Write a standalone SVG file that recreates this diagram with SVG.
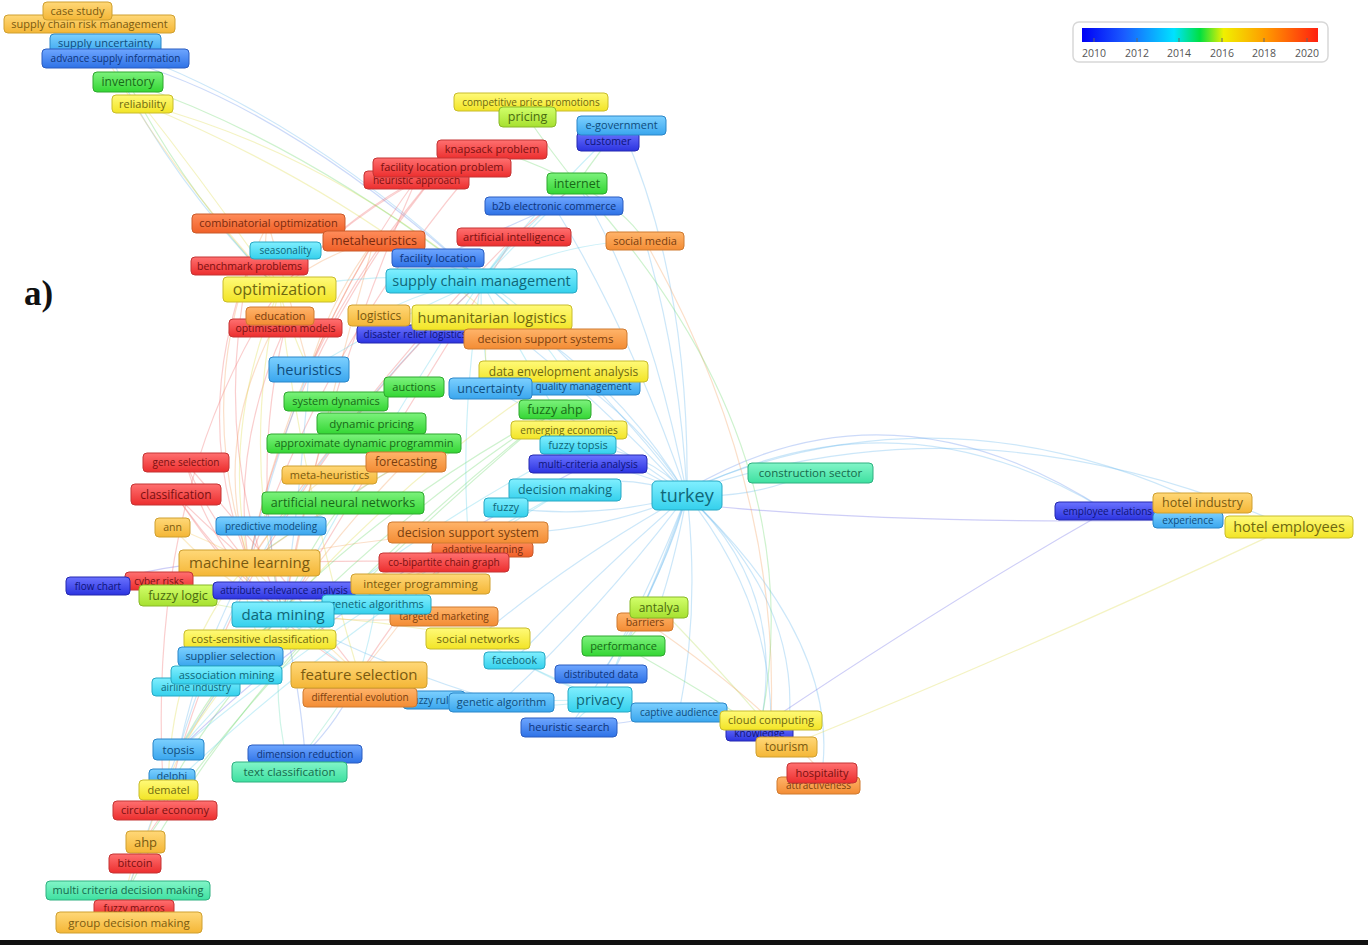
<svg xmlns="http://www.w3.org/2000/svg" width="1368" height="945" viewBox="0 0 1368 945">
<defs>
<linearGradient id="gR" x1="0" y1="0" x2="0" y2="1"><stop offset="0" stop-color="#ff7070"/><stop offset="1" stop-color="#ec2e2e"/></linearGradient>
<linearGradient id="gOR" x1="0" y1="0" x2="0" y2="1"><stop offset="0" stop-color="#ff8c5a"/><stop offset="1" stop-color="#f06028"/></linearGradient>
<linearGradient id="gO" x1="0" y1="0" x2="0" y2="1"><stop offset="0" stop-color="#ffb46a"/><stop offset="1" stop-color="#f38c34"/></linearGradient>
<linearGradient id="gG" x1="0" y1="0" x2="0" y2="1"><stop offset="0" stop-color="#ffd878"/><stop offset="1" stop-color="#f4b636"/></linearGradient>
<linearGradient id="gY" x1="0" y1="0" x2="0" y2="1"><stop offset="0" stop-color="#fffa78"/><stop offset="1" stop-color="#f2e426"/></linearGradient>
<linearGradient id="gYG" x1="0" y1="0" x2="0" y2="1"><stop offset="0" stop-color="#d2ff6a"/><stop offset="1" stop-color="#a6e030"/></linearGradient>
<linearGradient id="gGR" x1="0" y1="0" x2="0" y2="1"><stop offset="0" stop-color="#7cf27c"/><stop offset="1" stop-color="#34d634"/></linearGradient>
<linearGradient id="gTL" x1="0" y1="0" x2="0" y2="1"><stop offset="0" stop-color="#82f5c8"/><stop offset="1" stop-color="#3ee0a0"/></linearGradient>
<linearGradient id="gC" x1="0" y1="0" x2="0" y2="1"><stop offset="0" stop-color="#80efff"/><stop offset="1" stop-color="#34d0ec"/></linearGradient>
<linearGradient id="gLB" x1="0" y1="0" x2="0" y2="1"><stop offset="0" stop-color="#7cd0ff"/><stop offset="1" stop-color="#3aa6ee"/></linearGradient>
<linearGradient id="gB" x1="0" y1="0" x2="0" y2="1"><stop offset="0" stop-color="#6ea6ff"/><stop offset="1" stop-color="#2e72e6"/></linearGradient>
<linearGradient id="gDB" x1="0" y1="0" x2="0" y2="1"><stop offset="0" stop-color="#6a72ff"/><stop offset="1" stop-color="#2c34e0"/></linearGradient>
<linearGradient id="scale" x1="0" y1="0" x2="1" y2="0">
<stop offset="0" stop-color="#0000f5"/><stop offset="0.18" stop-color="#1a5cff"/><stop offset="0.39" stop-color="#00e2ff"/><stop offset="0.5" stop-color="#00e040"/><stop offset="0.6" stop-color="#f0f000"/><stop offset="0.78" stop-color="#ff9900"/><stop offset="1" stop-color="#ff2010"/>
</linearGradient>
</defs>
<style>
.nd rect{stroke-width:1}
.nd text{font-family:"Open Sans","Noto Sans",sans-serif;text-anchor:middle}
.R rect{fill:url(#gR);stroke:#c43434}.R text{fill:#7a1010}
.OR rect{fill:url(#gOR);stroke:#c85a2a}.OR text{fill:#7a2a0e}
.O rect{fill:url(#gO);stroke:#cf7a30}.O text{fill:#7a3e0e}
.G rect{fill:url(#gG);stroke:#cfa030}.G text{fill:#7a5a10}
.Y rect{fill:url(#gY);stroke:#c8bc2c}.Y text{fill:#6e6810}
.YG rect{fill:url(#gYG);stroke:#88b828}.YG text{fill:#4a6a10}
.GR rect{fill:url(#gGR);stroke:#2ea82e}.GR text{fill:#176a17}
.TL rect{fill:url(#gTL);stroke:#2eb080}.TL text{fill:#166a4c}
.C rect{fill:url(#gC);stroke:#28a8c4}.C text{fill:#0f6678}
.LB rect{fill:url(#gLB);stroke:#2a86c8}.LB text{fill:#0f4c7c}
.B rect{fill:url(#gB);stroke:#2a5cc0}.B text{fill:#0e347a}
.DB rect{fill:url(#gDB);stroke:#2428b0}.DB text{fill:#0e1478}
#connectors path{fill:none;stroke-width:1.2;stroke-opacity:0.34}
.e-lb{stroke:#6ab8ec}.e-c{stroke:#66d4ea}.e-b{stroke:#6a94ec}.e-db{stroke:#7070e8}.e-r{stroke:#f07070}.e-o{stroke:#f4a060}.e-gd{stroke:#f2c860}.e-y{stroke:#e0dc50}.e-yg{stroke:#b8e060}.e-g{stroke:#70d870}.e-t{stroke:#70e0b8}
.leg text{font-family:"Open Sans","Noto Sans",sans-serif;font-size:10.5px;fill:#555;text-anchor:middle}
</style>
<rect x="0" y="0" width="1368" height="945" fill="#ffffff"/>
<g id="connectors">
<path class="e-lb" d="M687 495Q600 380 481 281"/>
<path class="e-lb" d="M687 495Q650 300 577 184"/>
<path class="e-lb" d="M687 495Q630 330 554 206"/>
<path class="e-lb" d="M687 495Q690 280 621 126"/>
<path class="e-lb" d="M687 495Q680 360 645 241"/>
<path class="e-lb" d="M687 495Q590 390 492 317"/>
<path class="e-lb" d="M687 495Q630 400 545 339"/>
<path class="e-lb" d="M687 495Q640 420 564 371"/>
<path class="e-lb" d="M687 495Q620 470 565 490"/>
<path class="e-lb" d="M687 495Q640 470 588 464"/>
<path class="e-lb" d="M687 495Q650 450 578 445"/>
<path class="e-lb" d="M687 495Q610 440 555 410"/>
<path class="e-lb" d="M687 495Q590 440 490 388"/>
<path class="e-lb" d="M687 495Q600 520 506 508"/>
<path class="e-lb" d="M687 495Q580 540 468 532"/>
<path class="e-lb" d="M687 495Q570 560 478 638"/>
<path class="e-lb" d="M687 495Q600 570 514 660"/>
<path class="e-lb" d="M687 495Q600 610 501 702"/>
<path class="e-lb" d="M687 495Q650 600 600 700"/>
<path class="e-lb" d="M687 495Q660 590 601 674"/>
<path class="e-lb" d="M687 495Q630 640 569 728"/>
<path class="e-lb" d="M687 495Q700 610 679 713"/>
<path class="e-lb" d="M687 495Q660 580 623 646"/>
<path class="e-lb" d="M687 495Q675 560 659 607"/>
<path class="e-lb" d="M687 495Q770 600 771 720"/>
<path class="e-lb" d="M687 495Q790 590 759 733"/>
<path class="e-lb" d="M687 495Q810 610 786 747"/>
<path class="e-lb" d="M687 495Q840 640 822 773"/>
<path class="e-lb" d="M687 495Q750 500 810 473"/>
<path class="e-b" d="M687 490Q890 370 1107 511"/>
<path class="e-lb" d="M687 492Q900 385 1107 511"/>
<path class="e-lb" d="M687 490Q940 380 1202 503"/>
<path class="e-lb" d="M687 492Q980 390 1289 527"/>
<path class="e-db" d="M700 505Q900 525 1188 520"/>
<path class="e-db" d="M1107 511Q950 600 771 720"/>
<path class="e-y" d="M1289 527Q1050 640 786 747"/>
<path class="e-o" d="M645 241Q780 480 771 720"/>
<path class="e-g" d="M577 184Q820 450 759 733"/>
<path class="e-y" d="M142 104Q210 190 279 290"/>
<path class="e-y" d="M142 104Q320 150 481 281"/>
<path class="e-y" d="M142 104Q350 190 492 317"/>
<path class="e-g" d="M128 82Q190 200 279 290"/>
<path class="e-g" d="M128 82Q300 140 481 281"/>
<path class="e-lb" d="M105 44Q160 170 279 290"/>
<path class="e-lb" d="M105 44Q300 110 481 281"/>
<path class="e-b" d="M115 58Q280 100 481 281"/>
<path class="e-gd" d="M89 24Q150 150 279 290"/>
<path class="e-o" d="M374 241Q320 255 279 290"/>
<path class="e-o" d="M374 241Q330 300 309 370"/>
<path class="e-o" d="M374 241Q280 400 249 563"/>
<path class="e-o" d="M374 241Q320 430 283 614"/>
<path class="e-o" d="M268 223Q190 380 249 563"/>
<path class="e-o" d="M268 223Q260 250 279 290"/>
<path class="e-o" d="M268 223Q290 300 309 370"/>
<path class="e-r" d="M249 266Q190 420 249 563"/>
<path class="e-r" d="M249 266Q210 450 283 614"/>
<path class="e-r" d="M442 167Q350 210 279 290"/>
<path class="e-r" d="M442 167Q290 350 249 563"/>
<path class="e-r" d="M442 167Q360 260 309 370"/>
<path class="e-r" d="M491 149Q370 190 279 290"/>
<path class="e-r" d="M491 149Q330 330 249 563"/>
<path class="e-r" d="M416 180Q350 270 309 370"/>
<path class="e-r" d="M416 180Q320 400 283 614"/>
<path class="e-r" d="M514 237Q370 380 249 563"/>
<path class="e-r" d="M514 237Q400 420 283 614"/>
<path class="e-r" d="M285 328Q230 450 249 563"/>
<path class="e-r" d="M285 328Q250 470 283 614"/>
<path class="e-o" d="M280 316Q210 440 249 563"/>
<path class="e-y" d="M279 290Q290 330 309 370"/>
<path class="e-y" d="M279 290Q220 430 249 563"/>
<path class="e-y" d="M279 290Q240 450 283 614"/>
<path class="e-y" d="M279 290Q300 480 359 675"/>
<path class="e-lb" d="M309 370Q270 470 249 563"/>
<path class="e-lb" d="M309 370Q300 500 283 614"/>
<path class="e-gd" d="M249 563Q262 590 283 614"/>
<path class="e-gd" d="M249 563Q300 620 359 675"/>
<path class="e-r" d="M249 563Q200 520 176 495"/>
<path class="e-r" d="M176 495Q220 560 283 614"/>
<path class="e-r" d="M176 495Q250 610 359 675"/>
<path class="e-r" d="M186 463Q210 550 283 614"/>
<path class="e-r" d="M186 463Q270 560 359 675"/>
<path class="e-r" d="M186 463Q210 520 249 563"/>
<path class="e-c" d="M283 614Q320 650 359 675"/>
<path class="e-g" d="M283 614Q300 560 343 503"/>
<path class="e-g" d="M249 563Q290 530 343 503"/>
<path class="e-r" d="M283 614Q360 590 444 562"/>
<path class="e-r" d="M249 563Q350 560 444 562"/>
<path class="e-gd" d="M283 614Q350 600 420 584"/>
<path class="e-o" d="M283 614Q370 625 444 616"/>
<path class="e-r" d="M359 675Q400 610 444 562"/>
<path class="e-o" d="M359 675Q420 600 468 532"/>
<path class="e-o" d="M468 532Q380 580 283 614"/>
<path class="e-o" d="M468 532Q350 540 249 563"/>
<path class="e-g" d="M343 503Q370 480 406 462"/>
<path class="e-o" d="M406 462Q320 510 249 563"/>
<path class="e-o" d="M406 462Q330 540 283 614"/>
<path class="e-o" d="M482 550Q380 590 283 614"/>
<path class="e-gd" d="M329 475Q280 510 249 563"/>
<path class="e-y" d="M260 640Q240 600 249 563"/>
<path class="e-lb" d="M230 656Q250 640 283 614"/>
<path class="e-c" d="M226 675Q250 650 283 614"/>
<path class="e-c" d="M196 687Q230 660 283 614"/>
<path class="e-db" d="M98 586Q170 560 249 563"/>
<path class="e-r" d="M159 581Q200 565 249 563"/>
<path class="e-yg" d="M178 595Q230 610 283 614"/>
<path class="e-lb" d="M271 526Q270 570 283 614"/>
<path class="e-gd" d="M172 527Q210 540 249 563"/>
<path class="e-gd" d="M172 527Q220 580 283 614"/>
<path class="e-c" d="M481 281Q530 220 577 184"/>
<path class="e-c" d="M481 281Q520 240 554 206"/>
<path class="e-c" d="M481 281Q500 255 514 237"/>
<path class="e-c" d="M481 281Q520 300 545 339"/>
<path class="e-c" d="M481 281Q380 270 279 290"/>
<path class="e-c" d="M481 281Q390 320 309 370"/>
<path class="e-c" d="M481 281Q420 250 374 241"/>
<path class="e-c" d="M481 281Q370 450 283 614"/>
<path class="e-c" d="M481 281Q520 350 555 410"/>
<path class="e-c" d="M481 281Q480 330 490 388"/>
<path class="e-c" d="M481 281Q530 320 564 371"/>
<path class="e-c" d="M481 281Q560 180 621 126"/>
<path class="e-c" d="M481 281Q570 240 645 241"/>
<path class="e-c" d="M481 281Q420 290 379 315"/>
<path class="e-c" d="M481 281Q460 420 468 532"/>
<path class="e-lb" d="M481 281Q250 500 179 750"/>
<path class="e-r" d="M481 281Q230 520 165 811"/>
<path class="e-y" d="M492 317Q520 330 545 339"/>
<path class="e-y" d="M492 317Q480 350 490 388"/>
<path class="e-g" d="M577 184Q600 150 621 126"/>
<path class="e-g" d="M577 184Q550 150 527 117"/>
<path class="e-g" d="M577 184Q625 210 645 241"/>
<path class="e-g" d="M577 184Q530 160 491 149"/>
<path class="e-r" d="M514 237Q545 210 577 184"/>
<path class="e-b" d="M554 206Q500 230 438 258"/>
<path class="e-y" d="M564 371Q330 520 179 750"/>
<path class="e-g" d="M555 410Q280 560 179 750"/>
<path class="e-g" d="M555 410Q270 600 168 790"/>
<path class="e-g" d="M555 410Q250 650 128 890"/>
<path class="e-g" d="M555 410Q280 640 145 842"/>
<path class="e-c" d="M578 445Q320 580 179 750"/>
<path class="e-db" d="M588 464Q330 600 179 750"/>
<path class="e-c" d="M565 490Q330 620 179 750"/>
<path class="e-c" d="M565 490Q320 640 168 790"/>
<path class="e-r" d="M165 811Q150 830 145 842"/>
<path class="e-gd" d="M145 842Q135 870 128 890"/>
<path class="e-gd" d="M145 842Q120 880 129 922"/>
<path class="e-lb" d="M179 750Q150 820 128 890"/>
<path class="e-r" d="M165 811Q140 500 279 290"/>
<path class="e-y" d="M168 790Q170 650 249 563"/>
<path class="e-gd" d="M145 842Q190 700 283 614"/>
<path class="e-lb" d="M179 750Q220 680 283 614"/>
<path class="e-lb" d="M179 750Q200 650 249 563"/>
<path class="e-t" d="M290 772Q270 700 283 614"/>
<path class="e-t" d="M290 772Q330 720 359 675"/>
<path class="e-b" d="M305 754Q300 690 283 614"/>
<path class="e-b" d="M305 754Q340 720 359 675"/>
<path class="e-c" d="M600 700Q550 700 501 702"/>
<path class="e-c" d="M600 700Q580 715 569 728"/>
<path class="e-c" d="M600 700Q560 680 514 660"/>
<path class="e-c" d="M600 700Q640 705 679 713"/>
<path class="e-c" d="M600 700Q615 670 623 646"/>
<path class="e-c" d="M600 700Q530 670 478 638"/>
<path class="e-c" d="M600 700Q480 720 359 675"/>
<path class="e-lb" d="M501 702Q430 700 359 675"/>
<path class="e-lb" d="M501 702Q390 670 283 614"/>
<path class="e-g" d="M623 646Q640 625 659 607"/>
<path class="e-g" d="M623 646Q720 700 786 747"/>
<path class="e-yg" d="M659 607Q730 680 786 747"/>
<path class="e-o" d="M645 621Q760 700 822 773"/>
<path class="e-lb" d="M679 713Q720 718 771 720"/>
<path class="e-b" d="M569 728Q620 725 679 713"/>
<path class="e-y" d="M478 638Q380 620 283 614"/>
<path class="e-c" d="M376 604Q370 640 359 675"/>
</g>
<text x="24" y="305" font-family="Liberation Serif, serif" font-weight="bold" font-size="35" fill="#111">a)</text>
<g id="legend" class="leg">
<rect x="1073" y="22" width="255" height="40" rx="6" fill="#fff" stroke="#d8d8d8" stroke-width="1.5"/>
<rect x="1082" y="28" width="236" height="14" fill="url(#scale)"/>
<path d="M1094 38V42M1137 38V42M1179 38V42M1222 38V42M1264 38V42M1307 38V42" stroke="#666" stroke-width="1"/>
<text x="1094" y="57">2010</text><text x="1137" y="57">2012</text><text x="1179" y="57">2014</text><text x="1222" y="57">2016</text><text x="1264" y="57">2018</text><text x="1307" y="57">2020</text>
</g>
<g id="n-scrm" class="nd G"><rect x="4" y="15" width="171" height="18" rx="4"/><text x="89.5" y="28.4" font-size="11">supply chain risk management</text></g>
<g id="n-case-study" class="nd G"><rect x="43" y="2" width="69" height="18" rx="4"/><text x="77.5" y="14.6" font-size="11">case study</text></g>
<g id="n-supply-uncertainty" class="nd LB"><rect x="50" y="34" width="111" height="19" rx="4"/><text x="105.5" y="47.4" font-size="11">supply uncertainty</text></g>
<g id="n-advance-supply" class="nd B"><rect x="42" y="49" width="147" height="19" rx="4"/><text x="115.5" y="62" font-size="10">advance supply information</text></g>
<g id="n-inventory" class="nd GR"><rect x="93" y="72" width="70" height="20" rx="4"/><text x="128" y="86.2" font-size="12">inventory</text></g>
<g id="n-reliability" class="nd Y"><rect x="112" y="95" width="61" height="18" rx="4"/><text x="142.5" y="107.9" font-size="11">reliability</text></g>
<g id="n-cpp" class="nd Y"><rect x="454" y="93" width="154" height="18" rx="4"/><text x="531" y="105.5" font-size="10">competitive price promotions</text></g>
<g id="n-pricing" class="nd YG"><rect x="499" y="107" width="57" height="20" rx="4"/><text x="527.5" y="121.4" font-size="12.5">pricing</text></g>
<g id="n-customer" class="nd DB"><rect x="577" y="132" width="62" height="19" rx="4"/><text x="608" y="145.2" font-size="10.5">customer</text></g>
<g id="n-egov" class="nd LB"><rect x="577" y="116" width="89" height="19" rx="4"/><text x="621.5" y="129.4" font-size="11">e-government</text></g>
<g id="n-knapsack" class="nd R"><rect x="437" y="140" width="110" height="19" rx="4"/><text x="492" y="153.4" font-size="11">knapsack problem</text></g>
<g id="n-heur-approach" class="nd R"><rect x="364" y="171" width="105" height="18" rx="4"/><text x="416.5" y="183.5" font-size="10">heuristic approach</text></g>
<g id="n-flp" class="nd R"><rect x="373" y="158" width="138" height="19" rx="4"/><text x="442" y="171.4" font-size="11">facility location problem</text></g>
<g id="n-internet" class="nd GR"><rect x="547" y="173" width="60" height="21" rx="4"/><text x="577" y="187.9" font-size="12.5">internet</text></g>
<g id="n-b2b" class="nd B"><rect x="485" y="197" width="138" height="18" rx="4"/><text x="554" y="209.7" font-size="10.5">b2b electronic commerce</text></g>
<g id="n-combopt" class="nd OR"><rect x="192" y="214" width="153" height="19" rx="4"/><text x="268.5" y="227.4" font-size="11">combinatorial optimization</text></g>
<g id="n-benchmark" class="nd R"><rect x="191" y="257" width="117" height="18" rx="4"/><text x="249.5" y="269.7" font-size="10.5">benchmark problems</text></g>
<g id="n-seasonality" class="nd C"><rect x="250" y="242" width="71" height="17" rx="4"/><text x="285.5" y="254" font-size="10">seasonality</text></g>
<g id="n-metaheuristics" class="nd OR"><rect x="323" y="231" width="102" height="20" rx="4"/><text x="374" y="245.4" font-size="12.5">metaheuristics</text></g>
<g id="n-ai" class="nd R"><rect x="457" y="228" width="114" height="18" rx="4"/><text x="514" y="240.9" font-size="11">artificial intelligence</text></g>
<g id="n-social-media" class="nd O"><rect x="606" y="232" width="78" height="18" rx="4"/><text x="645" y="244.9" font-size="11">social media</text></g>
<g id="n-facility-location" class="nd B"><rect x="392" y="249" width="92" height="18" rx="4"/><text x="438" y="261.9" font-size="11">facility location</text></g>
<g id="n-optimization" class="nd Y"><rect x="223" y="277" width="113" height="25" rx="4"/><text x="279.5" y="295.1" font-size="16">optimization</text></g>
<g id="n-scm" class="nd C"><rect x="386" y="269" width="191" height="24" rx="4"/><text x="481.5" y="286.1" font-size="14.5">supply chain management</text></g>
<g id="n-optmodels" class="nd R"><rect x="229" y="319" width="113" height="18" rx="4"/><text x="285.5" y="331.7" font-size="10.5">optimisation models</text></g>
<g id="n-education" class="nd O"><rect x="246" y="307" width="68" height="18" rx="4"/><text x="280" y="319.9" font-size="11">education</text></g>
<g id="n-disaster" class="nd DB"><rect x="357" y="325" width="116" height="18" rx="4"/><text x="415" y="337.5" font-size="10">disaster relief logistics</text></g>
<g id="n-logistics" class="nd G"><rect x="348" y="305" width="62" height="21" rx="4"/><text x="379" y="319.7" font-size="12">logistics</text></g>
<g id="n-humlog" class="nd Y"><rect x="412" y="305" width="160" height="25" rx="4"/><text x="492" y="322.6" font-size="14.5">humanitarian logistics</text></g>
<g id="n-dss2" class="nd O"><rect x="464" y="329" width="163" height="20" rx="4"/><text x="545.5" y="343" font-size="11.5">decision support systems</text></g>
<g id="n-heuristics" class="nd LB"><rect x="269" y="357" width="80" height="25" rx="4"/><text x="309" y="374.6" font-size="14.5">heuristics</text></g>
<g id="n-quality" class="nd LB"><rect x="527" y="377" width="113" height="18" rx="4"/><text x="583.5" y="389.5" font-size="10">quality management</text></g>
<g id="n-dea" class="nd Y"><rect x="479" y="361" width="169" height="21" rx="4"/><text x="563.5" y="375.7" font-size="12">data envelopment analysis</text></g>
<g id="n-uncertainty" class="nd LB"><rect x="449" y="378" width="83" height="21" rx="4"/><text x="490.5" y="392.9" font-size="12.5">uncertainty</text></g>
<g id="n-sysdyn" class="nd GR"><rect x="284" y="392" width="104" height="19" rx="4"/><text x="336" y="405.4" font-size="11">system dynamics</text></g>
<g id="n-auctions" class="nd GR"><rect x="384" y="377" width="60" height="20" rx="4"/><text x="414" y="390.9" font-size="11">auctions</text></g>
<g id="n-fuzzy-ahp" class="nd GR"><rect x="519" y="400" width="72" height="19" rx="4"/><text x="555" y="413.9" font-size="12.5">fuzzy ahp</text></g>
<g id="n-dynpricing" class="nd GR"><rect x="317" y="413" width="109" height="21" rx="4"/><text x="371.5" y="427.5" font-size="11.5">dynamic pricing</text></g>
<g id="n-adp" class="nd GR"><rect x="267" y="434" width="194" height="19" rx="4"/><text x="364" y="447.4" font-size="11">approximate dynamic programmin</text></g>
<g id="n-emerging" class="nd Y"><rect x="511" y="421" width="116" height="18" rx="4"/><text x="569" y="433.5" font-size="10">emerging economies</text></g>
<g id="n-fuzzy-topsis" class="nd C"><rect x="540" y="436" width="76" height="18" rx="4"/><text x="578" y="448.9" font-size="11">fuzzy topsis</text></g>
<g id="n-mca" class="nd DB"><rect x="529" y="455" width="118" height="18" rx="4"/><text x="588" y="467.5" font-size="10">multi-criteria analysis</text></g>
<g id="n-meta-heuristics" class="nd G"><rect x="282" y="466" width="95" height="18" rx="4"/><text x="329.5" y="478.9" font-size="11">meta-heuristics</text></g>
<g id="n-forecasting" class="nd O"><rect x="366" y="452" width="80" height="20" rx="4"/><text x="406" y="466.2" font-size="12">forecasting</text></g>
<g id="n-gene-selection" class="nd R"><rect x="143" y="453" width="86" height="19" rx="4"/><text x="186" y="466" font-size="10">gene selection</text></g>
<g id="n-construction" class="nd TL"><rect x="748" y="463" width="125" height="20" rx="4"/><text x="810.5" y="477" font-size="11.5">construction sector</text></g>
<g id="n-classification" class="nd R"><rect x="131" y="484" width="90" height="21" rx="4"/><text x="176" y="498.7" font-size="12">classification</text></g>
<g id="n-ann-networks" class="nd GR"><rect x="262" y="492" width="162" height="22" rx="4"/><text x="343" y="507.4" font-size="12.5">artificial neural networks</text></g>
<g id="n-decision-making" class="nd C"><rect x="509" y="479" width="112" height="22" rx="4"/><text x="565" y="494.4" font-size="12.5">decision making</text></g>
<g id="n-fuzzy" class="nd C"><rect x="484" y="498" width="44" height="19" rx="4"/><text x="506" y="511.4" font-size="11">fuzzy</text></g>
<g id="n-turkey" class="nd C"><rect x="652" y="481" width="70" height="29" rx="5"/><text x="687" y="501.8" font-size="18">turkey</text></g>
<g id="n-ann" class="nd G"><rect x="155" y="518" width="35" height="19" rx="4"/><text x="172.5" y="531.2" font-size="10.5">ann</text></g>
<g id="n-predictive" class="nd LB"><rect x="216" y="517" width="110" height="18" rx="4"/><text x="271" y="529.5" font-size="10">predictive modeling</text></g>
<g id="n-adaptive" class="nd OR"><rect x="432" y="542" width="101" height="15" rx="4"/><text x="482.5" y="553" font-size="10">adaptive learning</text></g>
<g id="n-dss" class="nd O"><rect x="388" y="522" width="160" height="21" rx="4"/><text x="468" y="536.9" font-size="12.5">decision support system</text></g>
<g id="n-cobipartite" class="nd R"><rect x="379" y="553" width="130" height="19" rx="4"/><text x="444" y="566" font-size="10">co-bipartite chain graph</text></g>
<g id="n-ml" class="nd G"><rect x="179" y="550" width="141" height="26" rx="4"/><text x="249.5" y="568.3" font-size="15">machine learning</text></g>
<g id="n-cyber" class="nd R"><rect x="125" y="572" width="68" height="18" rx="4"/><text x="159" y="584.5" font-size="10">cyber risks</text></g>
<g id="n-flowchart" class="nd DB"><rect x="66" y="577" width="64" height="18" rx="4"/><text x="98" y="589.5" font-size="10">flow chart</text></g>
<g id="n-fuzzy-logic" class="nd YG"><rect x="139" y="585" width="78" height="21" rx="4"/><text x="178" y="599.9" font-size="12.5">fuzzy logic</text></g>
<g id="n-attribute" class="nd DB"><rect x="213" y="582" width="142" height="17" rx="4"/><text x="284" y="594" font-size="10">attribute relevance analysis</text></g>
<g id="n-integer" class="nd G"><rect x="351" y="574" width="139" height="20" rx="4"/><text x="420.5" y="588" font-size="11.5">integer programming</text></g>
<g id="n-targeted" class="nd O"><rect x="390" y="607" width="108" height="19" rx="4"/><text x="444" y="620" font-size="10">targeted marketing</text></g>
<g id="n-gen-algs" class="nd C"><rect x="322" y="595" width="109" height="19" rx="4"/><text x="376.5" y="608.4" font-size="11">genetic algorithms</text></g>
<g id="n-data-mining" class="nd C"><rect x="232" y="602" width="102" height="25" rx="4"/><text x="283" y="619.8" font-size="15">data mining</text></g>
<g id="n-cost-sensitive" class="nd Y"><rect x="184" y="630" width="152" height="19" rx="4"/><text x="260" y="643.4" font-size="11">cost-sensitive classification</text></g>
<g id="n-social-networks" class="nd Y"><rect x="426" y="628" width="104" height="21" rx="4"/><text x="478" y="642.5" font-size="11.5">social networks</text></g>
<g id="n-supplier" class="nd LB"><rect x="178" y="647" width="105" height="19" rx="4"/><text x="230.5" y="660.4" font-size="11">supplier selection</text></g>
<g id="n-airline" class="nd C"><rect x="152" y="678" width="88" height="18" rx="4"/><text x="196" y="690.5" font-size="10">airline industry</text></g>
<g id="n-association" class="nd C"><rect x="171" y="666" width="111" height="18" rx="4"/><text x="226.5" y="678.9" font-size="11">association mining</text></g>
<g id="n-facebook" class="nd C"><rect x="484" y="652" width="61" height="17" rx="4"/><text x="514.5" y="664.2" font-size="10.5">facebook</text></g>
<g id="n-fuzzy-rules" class="nd LB"><rect x="403" y="691" width="62" height="18" rx="4"/><text x="434" y="703.5" font-size="10">fuzzy rules</text></g>
<g id="n-diffevo" class="nd O"><rect x="303" y="688" width="114" height="19" rx="4"/><text x="360" y="701" font-size="10">differential evolution</text></g>
<g id="n-feature" class="nd G"><rect x="291" y="662" width="136" height="26" rx="4"/><text x="359" y="680.3" font-size="15">feature selection</text></g>
<g id="n-gen-alg" class="nd LB"><rect x="449" y="693" width="105" height="19" rx="4"/><text x="501.5" y="706.4" font-size="11">genetic algorithm</text></g>
<g id="n-barriers" class="nd O"><rect x="617" y="613" width="56" height="18" rx="4"/><text x="645" y="625.7" font-size="10.5">barriers</text></g>
<g id="n-antalya" class="nd YG"><rect x="630" y="597" width="58" height="21" rx="4"/><text x="659" y="611.7" font-size="12">antalya</text></g>
<g id="n-performance" class="nd GR"><rect x="582" y="636" width="83" height="20" rx="4"/><text x="623.5" y="649.9" font-size="11">performance</text></g>
<g id="n-distributed" class="nd B"><rect x="555" y="665" width="92" height="18" rx="4"/><text x="601" y="677.5" font-size="10">distributed data</text></g>
<g id="n-privacy" class="nd C"><rect x="568" y="687" width="64" height="25" rx="4"/><text x="600" y="704.6" font-size="14.5">privacy</text></g>
<g id="n-heur-search" class="nd B"><rect x="521" y="718" width="96" height="19" rx="4"/><text x="569" y="731.4" font-size="11">heuristic search</text></g>
<g id="n-captive" class="nd LB"><rect x="631" y="703" width="96" height="19" rx="4"/><text x="679" y="716" font-size="10">captive audience</text></g>
<g id="n-knowledge" class="nd DB"><rect x="726" y="726" width="67" height="15" rx="4"/><text x="759.5" y="737" font-size="10">knowledge</text></g>
<g id="n-cloud" class="nd Y"><rect x="720" y="711" width="102" height="19" rx="4"/><text x="771" y="724.4" font-size="11">cloud computing</text></g>
<g id="n-tourism" class="nd G"><rect x="756" y="737" width="61" height="20" rx="4"/><text x="786.5" y="751.2" font-size="12">tourism</text></g>
<g id="n-attractiveness" class="nd O"><rect x="777" y="777" width="83" height="17" rx="4"/><text x="818.5" y="789" font-size="10">attractiveness</text></g>
<g id="n-hospitality" class="nd R"><rect x="787" y="763" width="70" height="20" rx="4"/><text x="822" y="776.9" font-size="11">hospitality</text></g>
<g id="n-employee-rel" class="nd DB"><rect x="1055" y="502" width="105" height="18" rx="4"/><text x="1107.5" y="514.5" font-size="10">employee relations</text></g>
<g id="n-experience" class="nd LB"><rect x="1153" y="512" width="70" height="16" rx="4"/><text x="1188" y="523.5" font-size="10">experience</text></g>
<g id="n-hotel-industry" class="nd G"><rect x="1153" y="493" width="99" height="20" rx="4"/><text x="1202.5" y="507.4" font-size="12.5">hotel industry</text></g>
<g id="n-hotel-employees" class="nd Y"><rect x="1225" y="516" width="128" height="22" rx="4"/><text x="1289" y="532.1" font-size="14.5">hotel employees</text></g>
<g id="n-topsis" class="nd LB"><rect x="153" y="739" width="51" height="21" rx="4"/><text x="178.5" y="753.5" font-size="11.5">topsis</text></g>
<g id="n-delphi" class="nd LB"><rect x="149" y="769" width="46" height="15" rx="4"/><text x="172" y="780.2" font-size="10.5">delphi</text></g>
<g id="n-dematel" class="nd Y"><rect x="139" y="780" width="59" height="20" rx="4"/><text x="168.5" y="793.9" font-size="11">dematel</text></g>
<g id="n-circular" class="nd R"><rect x="113" y="801" width="104" height="19" rx="4"/><text x="165" y="814.4" font-size="11">circular economy</text></g>
<g id="n-ahp" class="nd G"><rect x="126" y="831" width="39" height="22" rx="4"/><text x="145.5" y="846.6" font-size="13">ahp</text></g>
<g id="n-bitcoin" class="nd R"><rect x="109" y="854" width="52" height="19" rx="4"/><text x="135" y="867.4" font-size="11">bitcoin</text></g>
<g id="n-mcdm" class="nd TL"><rect x="46" y="881" width="164" height="19" rx="4"/><text x="128" y="894.4" font-size="11">multi criteria decision making</text></g>
<g id="n-fuzzy-marcos" class="nd R"><rect x="94" y="900" width="80" height="16" rx="4"/><text x="134" y="911.5" font-size="10">fuzzy marcos</text></g>
<g id="n-gdm" class="nd G"><rect x="56" y="912" width="146" height="21" rx="4"/><text x="129" y="926.5" font-size="11.5">group decision making</text></g>
<g id="n-dimension" class="nd B"><rect x="248" y="745" width="114" height="18" rx="4"/><text x="305" y="757.5" font-size="10">dimension reduction</text></g>
<g id="n-text-class" class="nd TL"><rect x="232" y="762" width="115" height="20" rx="4"/><text x="289.5" y="776" font-size="11.5">text classification</text></g>
<rect x="0" y="940" width="1368" height="5" fill="#111"/>
</svg>
